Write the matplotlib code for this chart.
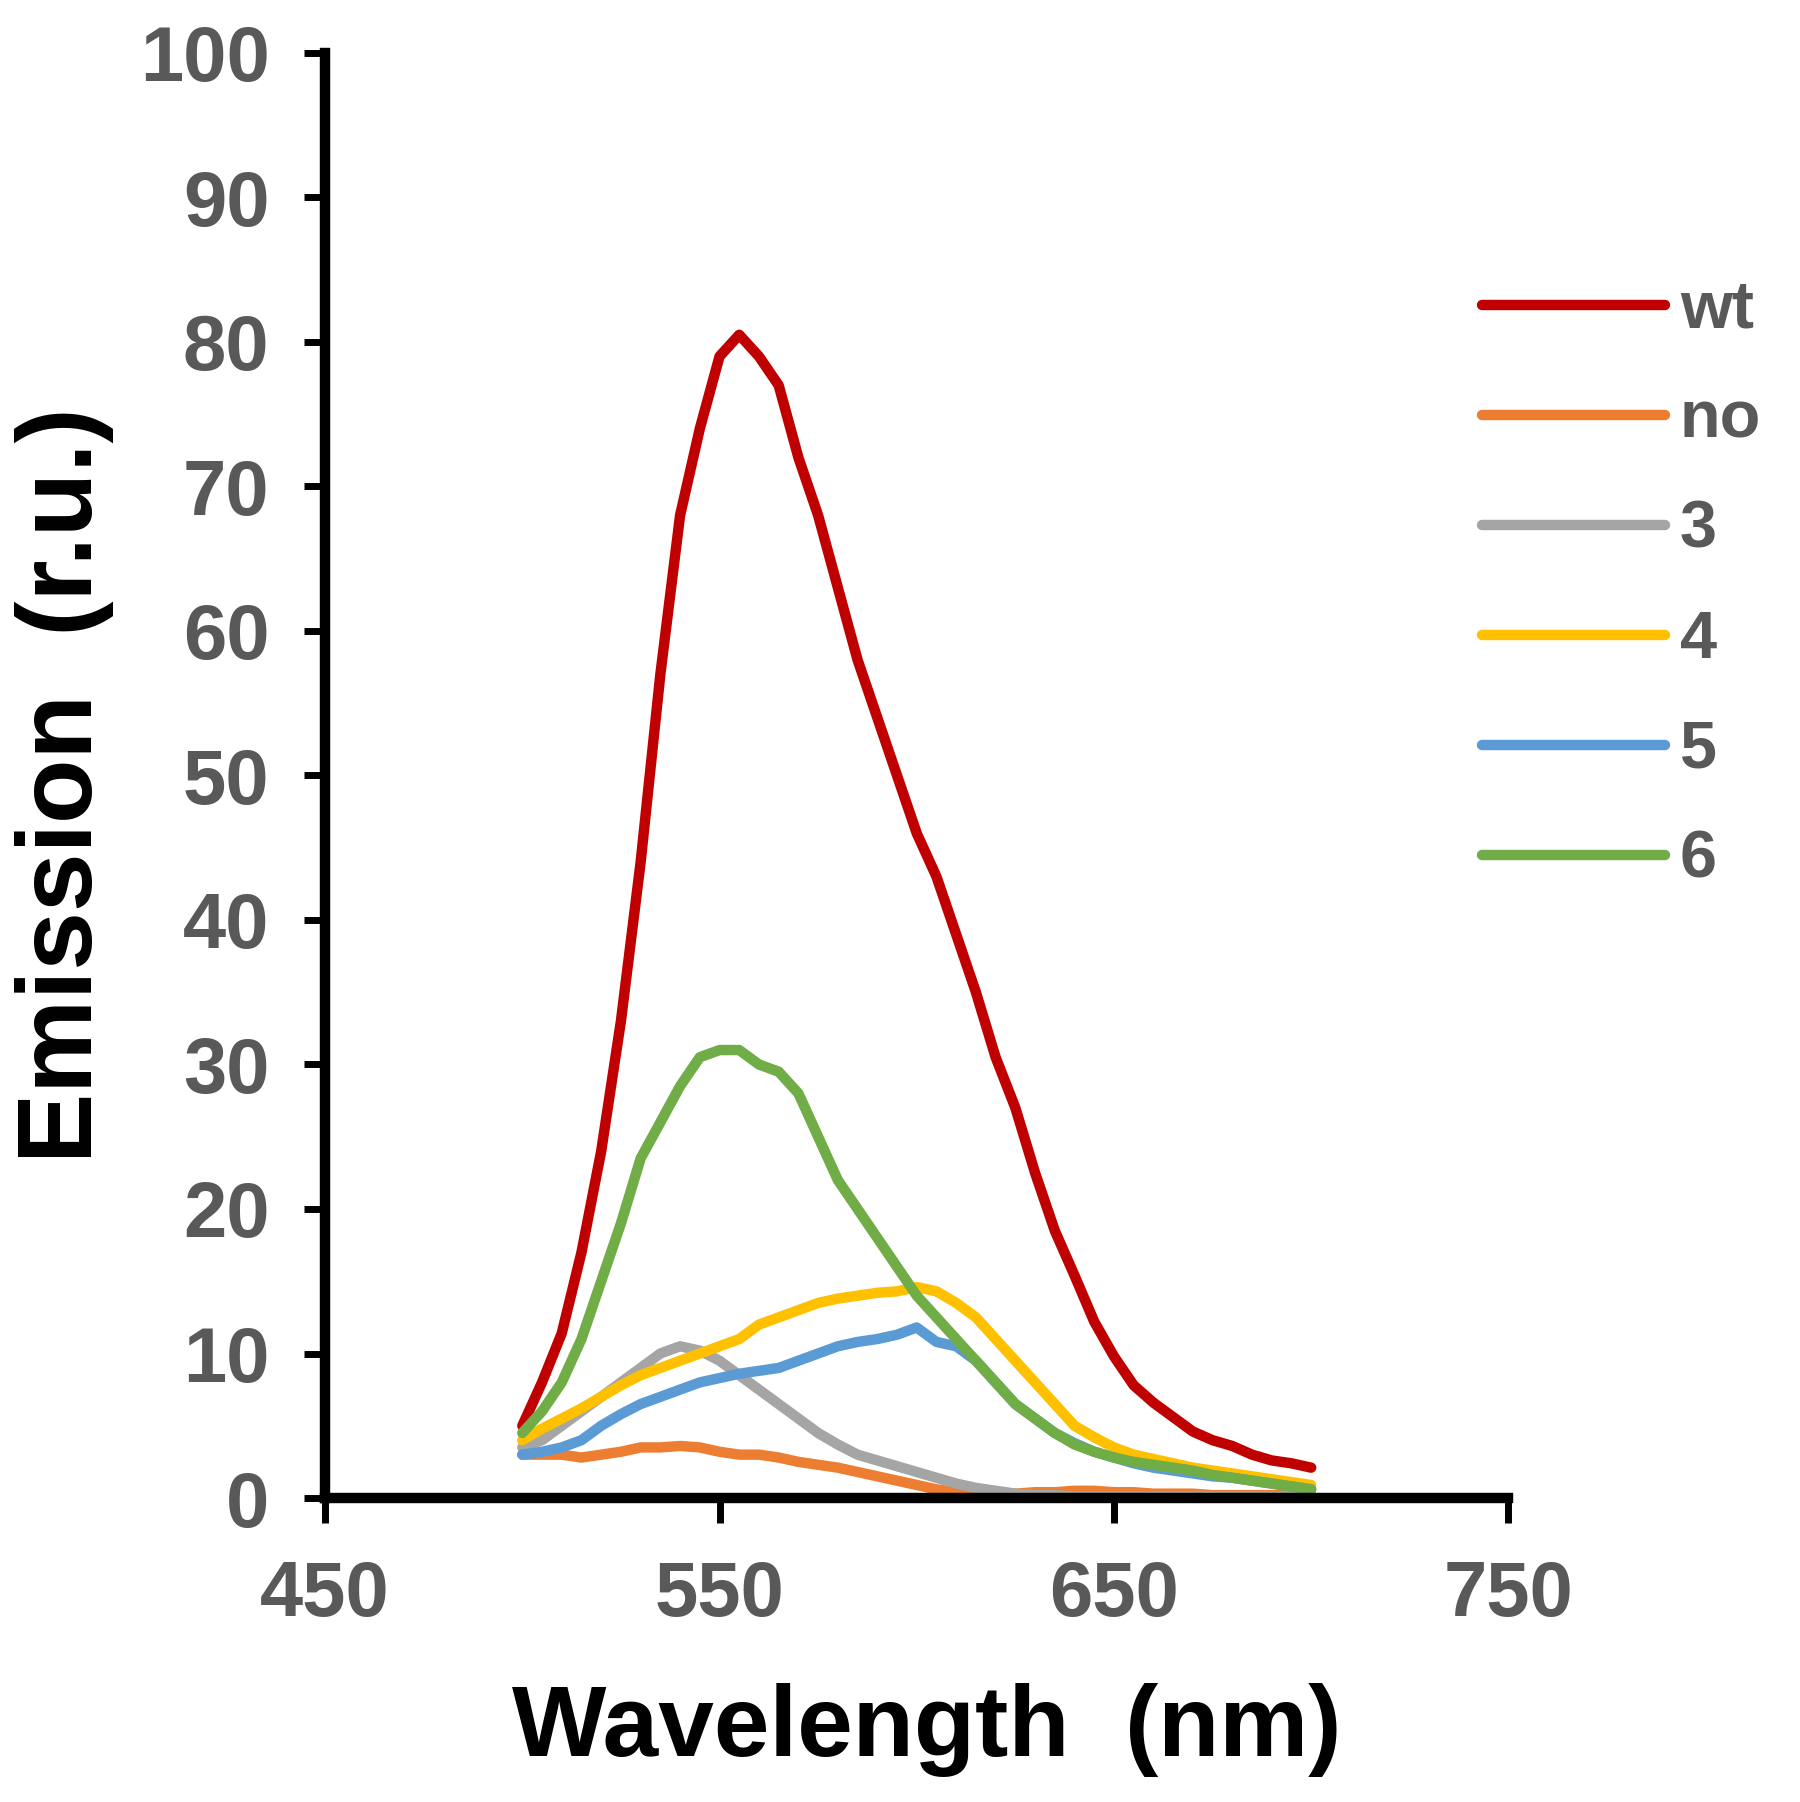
import matplotlib
matplotlib.use("Agg")
import matplotlib.pyplot as plt

plt.rcParams["font.family"] = ["Liberation Sans", "DejaVu Sans"]

# wavelength grid (nm) and emission values
wavelength = [500, 505, 510, 515, 520, 525, 530, 535, 540, 545, 550, 555, 560, 565, 570,
              575, 580, 585, 590, 595, 600, 605, 610, 615, 620, 625, 630, 635, 640, 645,
              650, 655, 660, 665, 670, 675, 680, 685, 690, 695, 700]

wt = [5.0, 8.0, 11.4, 17.0, 24.0, 33.0, 44.0, 57.0, 68.0, 74.0, 79.0, 80.5, 79.0, 77.0, 72.0,
      68.0, 63.0, 58.0, 54.0, 50.0, 46.0, 43.0, 39.0, 35.0, 30.5, 27.0, 22.5, 18.5, 15.4, 12.2,
      9.8, 7.8, 6.6, 5.6, 4.6, 4.0, 3.6, 3.0, 2.6, 2.4, 2.1]
no = [3.0, 3.0, 3.0, 2.8, 3.0, 3.2, 3.5, 3.5, 3.6, 3.5, 3.2, 3.0, 3.0, 2.8, 2.5,
      2.3, 2.1, 1.8, 1.5, 1.2, 0.9, 0.6, 0.4, 0.3, 0.3, 0.3, 0.4, 0.4, 0.5, 0.5,
      0.4, 0.4, 0.3, 0.3, 0.3, 0.2, 0.2, 0.2, 0.2, 0.2, 0.2]
s3 = [3.5, 4.0, 5.0, 6.0, 7.0, 8.0, 9.0, 10.0, 10.5, 10.2, 9.5, 8.5, 7.5, 6.5, 5.5,
      4.5, 3.7, 3.0, 2.6, 2.2, 1.8, 1.4, 1.0, 0.7, 0.5, 0.3, 0.2, 0.2, 0.1, 0.1,
      0.1, 0.1, 0.1, 0.1, 0.1, 0.1, 0.1, 0.1, 0.1, 0.1, 0.1]
s4 = [4.0, 4.8, 5.5, 6.2, 7.0, 7.8, 8.5, 9.0, 9.5, 10.0, 10.5, 11.0, 12.0, 12.5, 13.0,
      13.5, 13.8, 14.0, 14.2, 14.3, 14.6, 14.3, 13.5, 12.5, 11.0, 9.5, 8.0, 6.5, 5.0, 4.2,
      3.5, 3.0, 2.7, 2.4, 2.1, 1.9, 1.7, 1.5, 1.3, 1.1, 0.9]
s5 = [3.0, 3.2, 3.5, 4.0, 5.0, 5.8, 6.5, 7.0, 7.5, 8.0, 8.3, 8.6, 8.8, 9.0, 9.5,
      10.0, 10.5, 10.8, 11.0, 11.3, 11.8, 10.8, 10.5, 9.5, 8.0, 6.5, 5.5, 4.5, 3.8, 3.2,
      2.8, 2.4, 2.1, 1.9, 1.7, 1.5, 1.4, 1.2, 1.0, 0.8, 0.6]
s6 = [4.5, 6.0, 8.0, 11.0, 15.0, 19.0, 23.5, 26.0, 28.5, 30.5, 31.0, 31.0, 30.0, 29.5, 28.0,
      25.0, 22.0, 20.0, 18.0, 16.0, 14.0, 12.5, 11.0, 9.5, 8.0, 6.5, 5.5, 4.5, 3.7, 3.2,
      2.8, 2.5, 2.3, 2.1, 1.9, 1.6, 1.4, 1.2, 1.0, 0.8, 0.6]

labels = ["wt", "no", "3", "4", "5", "6"]
colors = ["#C00000", "#ED7D31", "#A5A5A5", "#FFC000", "#5B9BD5", "#70AD47"]
series = [wt, no, s3, s4, s5, s6]

fig = plt.figure(figsize=(18.0, 18.02), dpi=100)
ax = fig.add_axes([0.1806, 0.1687, 0.6574, 0.8019])

for vals, c, lab in zip(series, colors, labels):
    ax.plot(wavelength, vals, color=c, lw=7.5, label=lab,
            solid_capstyle="round", solid_joinstyle="round")

ax.set_xlim(450, 750)
ax.set_ylim(0, 100)
ax.set_xticks([450, 550, 650, 750])
ax.set_yticks(range(0, 101, 10))

for s in ["top", "right"]:
    ax.spines[s].set_visible(False)
for s in ["left", "bottom"]:
    ax.spines[s].set_linewidth(7.5)
    ax.spines[s].set_color("black")

ax.tick_params(axis="y", direction="out", length=15, width=5, pad=25,
               labelsize=56, labelcolor="#595959")
ax.tick_params(axis="x", direction="out", length=18, width=5, pad=26,
               labelsize=56, labelcolor="#595959")
for t in ax.get_xticklabels() + ax.get_yticklabels():
    t.set_fontweight("bold")

fig.text(0.036, 0.564, "Emission  (r.u.)", rotation=90, ha="center", va="center",
         fontsize=76, fontweight="bold", color="black")
fig.text(0.515, 0.04, "Wavelength  (nm)", ha="center", va="center",
         fontsize=72, fontweight="bold", color="black")

ax.legend(loc="upper left", bbox_to_anchor=(0.79, 0.878), bbox_transform=fig.transFigure,
          frameon=False, handlelength=2.75, handletextpad=0.22,
          labelspacing=0.72, labelcolor="#595959",
          prop={"weight": "bold", "size": 48})

fig.savefig("out.png", dpi=100, facecolor="white")
